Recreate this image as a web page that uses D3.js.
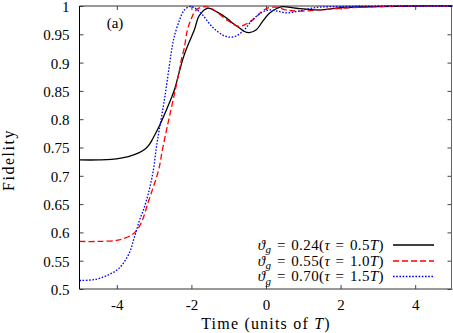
<!DOCTYPE html>
<html>
<head>
<meta charset="utf-8">
<script src="https://cdn.jsdelivr.net/npm/d3@7"></script>
<style>
  body { margin: 0; background: #fff; }
  svg { display: block; font-family: "Liberation Serif", "DejaVu Serif", serif; }
</style>
</head>
<body>
<div id="chart"></div>
<script>
// fidelity vs time, three gate settings
const xTicks = [-4, -2, 0, 2, 4];
const yTicks = [0.5, 0.55, 0.6, 0.65, 0.7, 0.75, 0.8, 0.85, 0.9, 0.95, 1];
const yTickLabels = ["0.5", "0.55", "0.6", "0.65", "0.7", "0.75", "0.8", "0.85", "0.9", "0.95", "1"];

const blackT = [-5, -4.5, -4.14, -3.69, -3.4, -3.23, -3.12, -3.04, -2.86, -2.59, -2.45, -2.32, -2.24, -2.13, -1.92, -1.79, -1.57, -1.33, -1.04, -0.9, -0.71, -0.58, -0.45, -0.26, -0.1, 0.09, 0.3, 0.44, 0.81, 1.43, 2, 3, 4, 5];
const blackV = [0.728, 0.728, 0.729, 0.734, 0.741, 0.748, 0.756, 0.765, 0.788, 0.829, 0.853, 0.885, 0.904, 0.925, 0.958, 0.983, 0.996, 0.990, 0.978, 0.970, 0.961, 0.955, 0.953, 0.958, 0.972, 0.987, 0.996, 0.999, 0.996, 0.993, 0.997, 0.999, 1.0, 1.0];

const redT = [-5, -4.5, -4.0, -3.78, -3.59, -3.46, -3.33, -3.15, -2.88, -2.78, -2.67, -2.59, -2.45, -2.32, -2.27, -2.19, -2.11, -2.0, -1.87, -1.65, -1.47, -1.04, -0.72, -0.37, -0.1, 0.03, 0.28, 0.54, 0.89, 1.43, 2, 3, 4, 5];
const redV = [0.584, 0.584, 0.586, 0.590, 0.596, 0.604, 0.619, 0.655, 0.710, 0.745, 0.780, 0.804, 0.846, 0.887, 0.905, 0.926, 0.957, 0.978, 0.993, 0.999, 0.996, 0.975, 0.964, 0.975, 0.991, 0.996, 0.998, 0.993, 0.991, 0.993, 0.996, 0.999, 1.0, 1.0];

const blueT = [-5, -4.57, -4.22, -3.95, -3.77, -3.63, -3.55, -3.47, -3.39, -3.28, -3.15, -3.02, -2.94, -2.86, -2.72, -2.59, -2.51, -2.45, -2.32, -2.19, -2.05, -1.92, -1.70, -1.44, -1.17, -0.98, -0.8, -0.58, -0.37, -0.1, 0.09, 0.3, 0.54, 0.81, 1.16, 1.43, 2, 3, 4, 5];
const blueV = [0.515, 0.517, 0.525, 0.536, 0.551, 0.569, 0.587, 0.604, 0.622, 0.641, 0.670, 0.710, 0.750, 0.782, 0.836, 0.895, 0.930, 0.948, 0.975, 0.993, 0.999, 0.997, 0.984, 0.963, 0.949, 0.945, 0.947, 0.958, 0.975, 0.989, 0.993, 0.991, 0.988, 0.990, 0.9955, 0.998, 0.999, 1.0, 1.0, 1.0];

const seriesNames = ["0.24", "0.55", "0.70"];
const seriesTau = ["0.5", "1.0", "1.5"];

const width = 453, height = 333;
const pLeft = 79.5, pRight = 452.5, pTop = 6, pBottom = 289;

const svg = d3.select("#chart").append("svg")
  .attr("width", width)
  .attr("height", height);

const x = d3.scaleLinear().domain([-5, 5]).range([pLeft, pRight]);
const y = d3.scaleLinear().domain([0.5, 1]).range([pBottom, pTop]);

svg.append("clipPath").attr("id", "clip")
  .append("rect")
  .attr("x", pLeft).attr("y", pTop - 1)
  .attr("width", pRight - pLeft).attr("height", pBottom - pTop + 1);

// axes, ticks inward
const tickCol = "#444";
const gl = svg.append("g").attr("transform", `translate(${pLeft},0)`)
  .call(d3.axisLeft(y).tickValues(yTicks).tickSizeInner(-4).tickSizeOuter(0).tickPadding(10)
    .tickFormat((d, i) => yTickLabels[i]));
const gr = svg.append("g").attr("transform", `translate(${pRight - 1},0)`)
  .call(d3.axisRight(y).tickValues(yTicks).tickSizeInner(-4).tickSizeOuter(0).tickFormat(""));
const gb = svg.append("g").attr("transform", `translate(0,${pBottom})`)
  .call(d3.axisBottom(x).tickValues(xTicks).tickSizeInner(-4).tickSizeOuter(0).tickPadding(10)
    .tickFormat(d => d < 0 ? "-" + Math.abs(d) : String(d)));
const gt = svg.append("g").attr("transform", `translate(0,${pTop})`)
  .call(d3.axisTop(x).tickValues(xTicks).tickSizeInner(-4).tickSizeOuter(0).tickFormat(""));

[gl, gr, gb, gt].forEach(g => {
  g.select(".domain").remove();
  g.selectAll(".tick line").attr("stroke", tickCol);
  g.selectAll(".tick text")
    .attr("font-family", "Liberation Serif, serif")
    .attr("font-size", 15)
    .attr("fill", "#000");
});
gb.selectAll(".tick text").attr("dy", "0.71em");
gl.selectAll(".tick text").attr("dy", "0.36em");

// frame
svg.append("line").attr("x1", pLeft).attr("x2", pLeft).attr("y1", pTop).attr("y2", pBottom).attr("stroke", "#000");
svg.append("line").attr("x1", pLeft).attr("x2", pRight).attr("y1", pBottom).attr("y2", pBottom).attr("stroke", "#333");
svg.append("line").attr("x1", pLeft).attr("x2", pRight).attr("y1", pTop).attr("y2", pTop).attr("stroke", "#333");
svg.append("line").attr("x1", pRight - 1).attr("x2", pRight - 1).attr("y1", pTop).attr("y2", pBottom).attr("stroke", "#666");

// curves
const line = d3.line()
  .x(d => x(d[0]))
  .y(d => y(d[1]))
  .curve(d3.curveCatmullRom.alpha(0.5));

const series = [
  { t: blackT, v: blackV, color: "#000", dash: null },
  { t: redT, v: redV, color: "#ff0000", dash: "6,3" },
  { t: blueT, v: blueV, color: "#0000ff", dash: "1.6,1.6" }
];

const plot = svg.append("g").attr("clip-path", "url(#clip)");
series.forEach(s => {
  plot.append("path")
    .datum(s.t.map((t, i) => [t, s.v[i]]))
    .attr("fill", "none")
    .attr("stroke", s.color)
    .attr("stroke-width", 1.3)
    .attr("stroke-dasharray", s.dash)
    .attr("d", line);
});

// legend
const legY = [245, 261, 276.5];
const eq = "\u2004=\u2004";
series.forEach((s, i) => {
  const t = svg.append("text")
    .attr("x", 384)
    .attr("y", legY[i] + 4.5)
    .attr("text-anchor", "end")
    .attr("font-size", 15)
    .attr("letter-spacing", 0.4);
  t.append("tspan").attr("font-style", "italic").text("ϑ");
  t.append("tspan").attr("font-style", "italic").attr("font-size", 11).attr("dy", 3.5).text("g");
  t.append("tspan").attr("dy", -3.5).text(eq + seriesNames[i] + "(");
  t.append("tspan").attr("font-style", "italic").text("τ");
  t.append("tspan").text(eq + seriesTau[i]);
  t.append("tspan").attr("font-style", "italic").text("T");
  t.append("tspan").text(")");

  svg.append("line")
    .attr("x1", 393).attr("x2", 434)
    .attr("y1", legY[i]).attr("y2", legY[i])
    .attr("stroke", s.color)
    .attr("stroke-width", 1.3)
    .attr("stroke-dasharray", s.dash);
});

// labels
svg.append("text")
  .attr("x", 115).attr("y", 28)
  .attr("text-anchor", "middle")
  .attr("font-size", 15)
  .text("(a)");

const xl = svg.append("text")
  .attr("x", 266).attr("y", 329)
  .attr("text-anchor", "middle")
  .attr("font-size", 16)
  .attr("letter-spacing", 1.2);
xl.append("tspan").text("Time (units of ");
xl.append("tspan").attr("font-style", "italic").text("T");
xl.append("tspan").text(")");

svg.append("text")
  .attr("transform", "translate(14,160) rotate(-90)")
  .attr("text-anchor", "middle")
  .attr("font-size", 16)
  .attr("letter-spacing", 1.5)
  .text("Fidelity");
</script>
</body>
</html>
